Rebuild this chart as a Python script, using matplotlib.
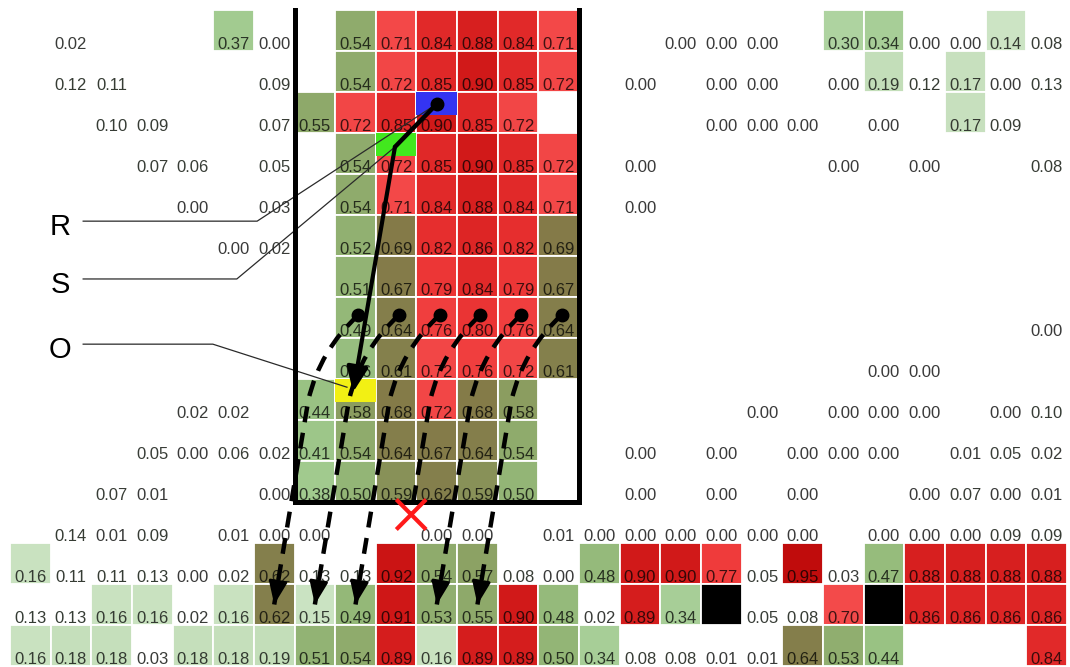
import numpy as np
import matplotlib
matplotlib.use("Agg")
import matplotlib.pyplot as plt
from matplotlib.patches import Rectangle, PathPatch, FancyArrowPatch
from matplotlib.path import Path
from matplotlib.colors import LinearSegmentedColormap, to_rgb

plt.rcParams["font.family"] = ["Liberation Sans", "DejaVu Sans"]

## Cell values, one string per row ("-" = empty cell)
row_values = [
    "- 0.02 - - - 0.37 0.00 - 0.54 0.71 0.84 0.88 0.84 0.71 - - 0.00 0.00 0.00 - 0.30 0.34 0.00 0.00 0.14 0.08",
    "- 0.12 0.11 - - - 0.09 - 0.54 0.72 0.85 0.90 0.85 0.72 - 0.00 - 0.00 0.00 - 0.00 0.19 0.12 0.17 0.00 0.13",
    "- - 0.10 0.09 - - 0.07 0.55 0.72 0.85 0.90 0.85 0.72 - - - - 0.00 0.00 0.00 - 0.00 - 0.17 0.09 -",
    "- - - 0.07 0.06 - 0.05 - 0.54 0.72 0.85 0.90 0.85 0.72 - 0.00 - - - - 0.00 - 0.00 - - 0.08",
    "- - - - 0.00 - 0.03 - 0.54 0.71 0.84 0.88 0.84 0.71 - 0.00 - - - - - - - - - -",
    "- - - - - 0.00 0.02 - 0.52 0.69 0.82 0.86 0.82 0.69 - - - - - - - - - - - -",
    "- - - - - - - - 0.51 0.67 0.79 0.84 0.79 0.67 - - - - - - - - - - - -",
    "- - - - - - - - 0.49 0.64 0.76 0.80 0.76 0.64 - - - - - - - - - - - 0.00",
    "- - - - - - - - 0.46 0.61 0.72 0.76 0.72 0.61 - - - - - - - 0.00 0.00 - - -",
    "- - - - 0.02 0.02 - 0.44 0.58 0.68 0.72 0.68 0.58 - - - - - 0.00 - 0.00 0.00 0.00 - 0.00 0.10",
    "- - - 0.05 0.00 0.06 0.02 0.41 0.54 0.64 0.67 0.64 0.54 - - 0.00 - 0.00 - 0.00 0.00 0.00 - 0.01 0.05 0.02",
    "- - 0.07 0.01 - - 0.00 0.38 0.50 0.59 0.62 0.59 0.50 - - 0.00 - 0.00 - 0.00 - - 0.00 0.07 0.00 0.01",
    "- 0.14 0.01 0.09 - 0.01 0.00 0.00 - - 0.00 0.00 - 0.01 0.00 0.00 0.00 0.00 0.00 0.00 - 0.00 0.00 0.00 0.09 0.09",
    "0.16 0.11 0.11 0.13 0.00 0.02 0.62 0.13 0.13 0.92 0.54 0.57 0.08 0.00 0.48 0.90 0.90 0.77 0.05 0.95 0.03 0.47 0.88 0.88 0.88 0.88",
    "0.13 0.13 0.16 0.16 0.02 0.16 0.62 0.15 0.49 0.91 0.53 0.55 0.90 0.48 0.02 0.89 0.34 - 0.05 0.08 0.70 - 0.86 0.86 0.86 0.86",
    "0.16 0.18 0.18 0.03 0.18 0.18 0.19 0.51 0.54 0.89 0.16 0.89 0.89 0.50 0.34 0.08 0.08 0.01 0.01 0.64 0.53 0.44 - - - 0.84",
]

## Which cells are filled ("#" = coloured by value, "k" = black, "." = no fill)
row_shading = [
    ".....#..######......##..#.",
    "........######.......#.#..",
    ".......######..........#..",
    "........######............",
    "........######............",
    "........######............",
    "........######............",
    "........######............",
    "........######............",
    ".......######.............",
    ".......######.............",
    ".......######.............",
    "..........................",
    "#.....#..###..####.#.#####",
    "..##.#########.##k..#k####",
    "###.###########....###...#",
]

## Colour scale: light green -> olive, then red for the high values
scale_stops = [0.00, 0.05, 0.13, 0.19, 0.30, 0.37, 0.44, 0.50, 0.55, 0.58, 0.61, 0.69, 0.695,
               0.70, 0.77, 0.82, 0.86, 0.90, 0.95, 1.00]
scale_colors = ["#dddddd", "#d8ead2", "#cde5c6", "#c3deb9", "#aed3a0", "#a2cb90", "#99c283",
                "#93b676", "#8ea96a", "#8b9d60", "#84804c", "#847a48", "#847a48",
                "#f34a4a", "#f03c3c", "#e62e2e", "#de2626", "#d21a1a", "#c10c0c", "#b80808"]

## Annotated cells
frame_cols = (7, 14)
frame_bottom = 12
source_cols = [8, 9, 10, 11, 12, 13]
source_row = 7
target_cols = [6, 7, 8, None, 10, 11]
target_row = 14
highlights = [(10, 2, "#3434f2"), (9, 3, "#42e81e"), (8, 9, "#f2f014")]
labels = ["R", "S", "O"]


def draw_cells(ax, cmap):
    """Draw the coloured cells and their values"""
    for r, (vals, shade) in enumerate(zip(row_values, row_shading)):
        for c, (tok, s) in enumerate(zip(vals.split(), shade)):
            if s == "#":
                ax.add_patch(Rectangle((c, r), 1, 1, facecolor=cmap(float(tok)),
                                       edgecolor="white", lw=1.3, zorder=1))
            elif s == "k":
                ax.add_patch(Rectangle((c, r), 1, 1, facecolor="black",
                                       edgecolor="white", lw=1.3, zorder=1))
            if tok != "-":
                rgb = np.array(to_rgb(cmap(float(tok)))) * 0.26
                ax.text(c + 0.5, r + 0.95, tok, ha="center", va="baseline",
                        fontsize=12, color=rgb, zorder=2)


def draw_overlays(ax):
    """Frame, highlighted cells, arrows and the R/S/O call-outs"""
    ## Highlight patches on the top half of a cell
    for c, r, col in highlights:
        ax.add_patch(Rectangle((c, r), 1, 0.56, facecolor=col, edgecolor="none", zorder=3))

    ## Open-top black frame
    x0, x1 = frame_cols
    ax.plot([x0, x0, x1, x1], [0, frame_bottom, frame_bottom, 0], color="black",
            lw=3.6, solid_joinstyle="miter", zorder=6)

    ## Solid arrow blue -> green -> yellow
    blue = (highlights[0][0] + 0.5, highlights[0][1] + 0.29)
    bend = (highlights[1][0] + 0.47, highlights[1][1] + 0.34)
    tip = (highlights[2][0] + 0.44, highlights[2][1] + 0.32)
    ax.plot([blue[0], bend[0]], [blue[1], bend[1]], color="black", lw=3.2,
            solid_capstyle="round", zorder=7)
    ax.add_patch(FancyArrowPatch(bend, tip, arrowstyle="-|>,head_length=0.75,head_width=0.32",
                                 mutation_scale=20, color="black", lw=3.0,
                                 shrinkA=0, shrinkB=0, zorder=7))
    ax.plot(*blue, "o", color="black", ms=9, zorder=8)

    ## Dashed curved arrows row 7 -> row 14
    for sc, tc in zip(source_cols, target_cols):
        p0 = np.array([sc + 0.57, source_row + 0.44])
        ctrl = p0 + [-0.94, 0.85]
        mid = p0 + [-1.23, 2.07]
        end = np.array([sc - 1.5, target_row + 0.5])
        if tc is None:
            end = mid + (end - mid) * 0.56
        verts = [p0, ctrl, mid, end]
        codes = [Path.MOVETO, Path.CURVE3, Path.CURVE3, Path.LINETO]
        ax.add_patch(PathPatch(Path(verts, codes), fill=False, color="black", lw=3.2,
                               linestyle=(0, (3.6, 2.4)), zorder=7))
        ax.plot(*p0, "o", color="black", ms=9, zorder=8)
        if tc is None:
            ## Blocked path: red cross
            d = 0.33
            ax.plot([end[0] - d, end[0] + d], [end[1] - d, end[1] + d], color="#ff1a1a", lw=3, zorder=8)
            ax.plot([end[0] - d, end[0] + d], [end[1] + d, end[1] - d], color="#ff1a1a", lw=3, zorder=8)
        else:
            start = end + (mid - end) * 0.12
            ax.add_patch(FancyArrowPatch(tuple(start), tuple(end),
                                         arrowstyle="-|>,head_length=0.75,head_width=0.3",
                                         mutation_scale=19, color="black", lw=2.0,
                                         shrinkA=0, shrinkB=0, zorder=8))

    ## R / S / O call-outs
    lab_rows = [5.15, 6.56, 8.15]
    knee_cols = [6.08, 5.58, 4.99]
    targets = [blue, bend, (8.29, 9.2)]
    for lab, yr, kx, tgt in zip(labels, lab_rows, knee_cols, targets):
        ax.plot([1.8, kx, tgt[0]], [yr, yr, tgt[1]], color="#2a2a2a", lw=0.9, zorder=5)
        ax.text(1.23, yr + 0.14, lab, ha="center", va="center", fontsize=21, color="black")


def main():
    """Build the annotated value grid and save it to out.png"""
    cmap = LinearSegmentedColormap.from_list("cells", list(zip(scale_stops, scale_colors)))

    fig = plt.figure(figsize=(10.70, 6.67), dpi=100)
    ax = fig.add_axes([0, 0, 1, 1])
    ax.set_xlim(-0.246, 26.077)
    ax.set_ylim(16.024, -0.244)
    ax.axis("off")

    draw_cells(ax, cmap)
    draw_overlays(ax)

    fig.savefig("out.png", dpi=100, facecolor="white")


if __name__ == "__main__":
    main()
